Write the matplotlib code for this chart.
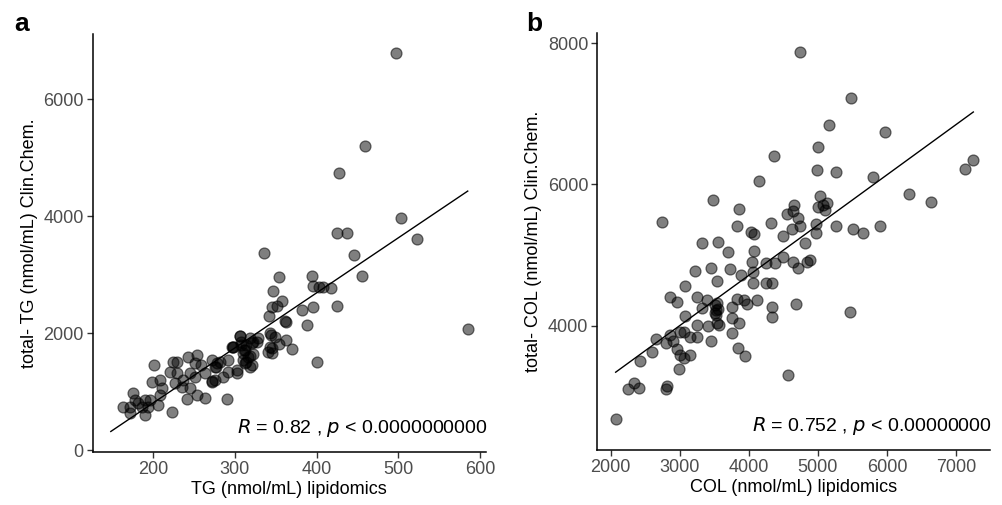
import numpy as np
import matplotlib
matplotlib.use("Agg")
import matplotlib.pyplot as plt

plt.rcParams['font.family'] = ['Liberation Sans', 'DejaVu Sans']

# panel a: TG lipidomics vs clinical chemistry (nmol/mL)
tg_lipid = [
    497, 459.5, 427.7, 503.6, 522.4, 425, 437, 335.5, 446, 353.9, 393.9, 455, 346.9,
    395.1, 403, 408, 417, 357, 345, 351, 395, 424.5, 382, 341.6, 361, 363, 387.8, 584.8,
    306, 344, 349, 328.5, 322.4, 363, 354, 343, 345, 298, 314, 311, 340.8, 345, 369.8,
    321.7, 318.4, 401, 342.8, 326.5, 308, 312, 310, 314, 318.4, 302, 296,
    306.4, 318.4, 298, 308, 320.4, 310, 316, 312, 320.4, 302, 291.8, 285.7, 275.5, 271.5,
    281.6, 291.8, 259, 253, 242.8, 251, 263, 275.5, 271.5, 251, 245, 236.7, 234.8, 245,
    253, 240.9, 263, 289.8, 228.6, 224.5, 220.4, 228.6, 226.6, 208.2, 198, 200.9, 210.3,
    208.2, 196, 206, 189.8, 185.8, 193.9, 189.8, 175.5, 177.6, 171.5, 163.3, 171.5,
    222.5, 181.6, 271.8, 278.3, 276.7,
]
tg_clin = [
    6797, 5201, 4739, 3975, 3610, 3707, 3715, 3376, 3330, 2966, 2977, 2977, 2726,
    2811, 2783, 2790, 2766, 2549, 2452, 2464, 2452, 2460, 2395, 2293, 2212, 2195, 2144, 2065,
    1950, 1967, 1928, 1911, 1853, 1882, 1813, 1767, 1740, 1757, 1796, 1711, 1682, 1665, 1728,
    1643, 1608, 1506, 1996, 1853, 1853, 1711, 1540, 1511, 1425, 1369, 1767,
    1950, 1911, 1767, 1796, 1825, 1654, 1597, 1483, 1454, 1312, 1340, 1254, 1425, 1540,
    1511, 1540, 1454, 1625, 1597, 1483, 1312, 1198, 1169, 1254, 1312, 1198, 1083, 1055,
    941, 873, 884, 867, 1511, 1511, 1340, 1312, 1141, 1198, 1169, 1454, 1055,
    941, 855, 770, 855, 741, 741, 599, 970, 855, 741, 741, 628,
    655, 799, 1186, 1483, 1425,
]
tg_fit_range = [148, 585]

# panel b: COL lipidomics vs clinical chemistry (nmol/mL)
col_lipid = [
    4741, 5475, 5166, 5977, 5006, 4365, 4992, 5262, 4152, 5798, 7135, 7251, 6324, 6634,
    3486, 3862, 2743, 5031, 4654, 4635, 4557, 4717, 4741, 4625, 5006, 5078, 5128, 5103,
    3824, 4321, 4968, 4968, 5262, 5514, 5659, 5900, 4027, 4080, 4491,
    3327, 3549, 3703, 4080, 4042, 4249, 4491, 4644, 4717, 4813, 4838, 4886, 4379,
    3221, 3452, 3727, 3887, 4065, 3535, 4065, 4249, 4331, 3076, 2859, 2956, 3245,
    3390, 3535, 3525, 3327, 3824, 3930, 3969, 4114, 3752, 4331, 4331, 4683, 5465,
    3076, 3245, 3525, 3535, 3573, 3413, 3752, 3862, 2656, 2801, 2907, 2859, 3004, 3066,
    3148, 3245, 3752, 3452, 2594, 2956, 3004, 3066, 3148, 2424, 3848, 3945, 2985, 4563,
    2255, 2342, 2414, 2801, 2820, 2072, 3512, 3559, 3512,
]
col_clin = [
    7876, 7229, 6846, 6742, 6534, 6406, 6200, 6171, 6044, 6100, 6218, 6350, 5864, 5751,
    5779, 5652, 5472, 5840, 5708, 5628, 5577, 5520, 5416, 5365, 5684, 5708, 5732, 5637,
    5416, 5450, 5440, 5317, 5416, 5369, 5317, 5416, 5322, 5294, 5270,
    5166, 5180, 5039, 5062, 4906, 4892, 4977, 4906, 4821, 5166, 4906, 4930, 4883,
    4774, 4821, 4798, 4718, 4764, 4637, 4600, 4600, 4609, 4566, 4402, 4335, 4402,
    4364, 4317, 4222, 4246, 4378, 4364, 4307, 4364, 4269, 4269, 4127, 4303, 4198,
    4142, 4010, 4151, 4042, 4010, 3996, 4105, 4034, 3812, 3759, 3788, 3868, 3915, 3915,
    3844, 3844, 3892, 3783, 3632, 3670, 3585, 3538, 3585, 3505, 3680, 3575, 3383, 3306,
    3100, 3185, 3114, 3100, 3151, 2679, 4292, 4232, 4175,
]
col_fit_range = [2072, 7251]

panels = [
    dict(x=tg_lipid, y=tg_clin, fit=tg_fit_range, letter='a', letter_x=0.014,
         pos=[0.0924, 0.1055, 0.392, 0.827],
         xlim=(125.8, 607.2), ylim=(-29, 7117),
         xticks=[200, 300, 400, 500, 600], yticks=[0, 2000, 4000, 6000],
         xlabel='TG (nmol/mL) lipidomics', ylabel='total- TG (nmol/mL) Clin.Chem.',
         r='0.82', p='0.0000000000'),
    dict(x=col_lipid, y=col_clin, fit=col_fit_range, letter='b', letter_x=0.525,
         pos=[0.5955, 0.109, 0.3915, 0.826],
         xlim=(1806, 7492), ylim=(2239, 8146),
         xticks=[2000, 3000, 4000, 5000, 6000, 7000], yticks=[4000, 6000, 8000],
         xlabel='COL (nmol/mL) lipidomics', ylabel='total- COL (nmol/mL) Clin.Chem.',
         r='0.752', p='0.00000000'),
]

fig = plt.figure(figsize=(10.03, 5.05), dpi=100)

for pan in panels:
    ax = fig.add_axes(pan['pos'])
    x = np.array(pan['x'])
    y = np.array(pan['y'])
    ax.scatter(x, y, s=62, facecolor=(0, 0, 0, 0.5), edgecolor=(0, 0, 0, 0.55),
               linewidth=0.9, zorder=2)

    # linear fit
    slope, icpt = np.polyfit(x, y, 1)
    xs = np.array(pan['fit'])
    ax.plot(xs, slope * xs + icpt, color='black', lw=1.0, zorder=3)

    ax.set_xlim(*pan['xlim'])
    ax.set_ylim(*pan['ylim'])
    ax.set_xticks(pan['xticks'])
    ax.set_yticks(pan['yticks'])
    for side in ['top', 'right']:
        ax.spines[side].set_visible(False)
    for side in ['left', 'bottom']:
        ax.spines[side].set_linewidth(1.1)
    ax.tick_params(length=4, width=1.0, color='#333333', labelsize=13,
                   labelcolor='#4d4d4d', pad=2.5)
    ax.set_xlabel(pan['xlabel'], fontsize=13, labelpad=2)
    ax.set_ylabel(pan['ylabel'], fontsize=13, labelpad=4)

    ax.text(1.005, 0.057, f"$R$ = {pan['r']} , $p$ < {pan['p']}", transform=ax.transAxes,
            ha='right', va='center', fontsize=14)
    fig.text(pan['letter_x'], 0.952, pan['letter'], ha='left', va='center',
             fontsize=19, fontweight='bold')

fig.savefig('out.png', dpi=100)
